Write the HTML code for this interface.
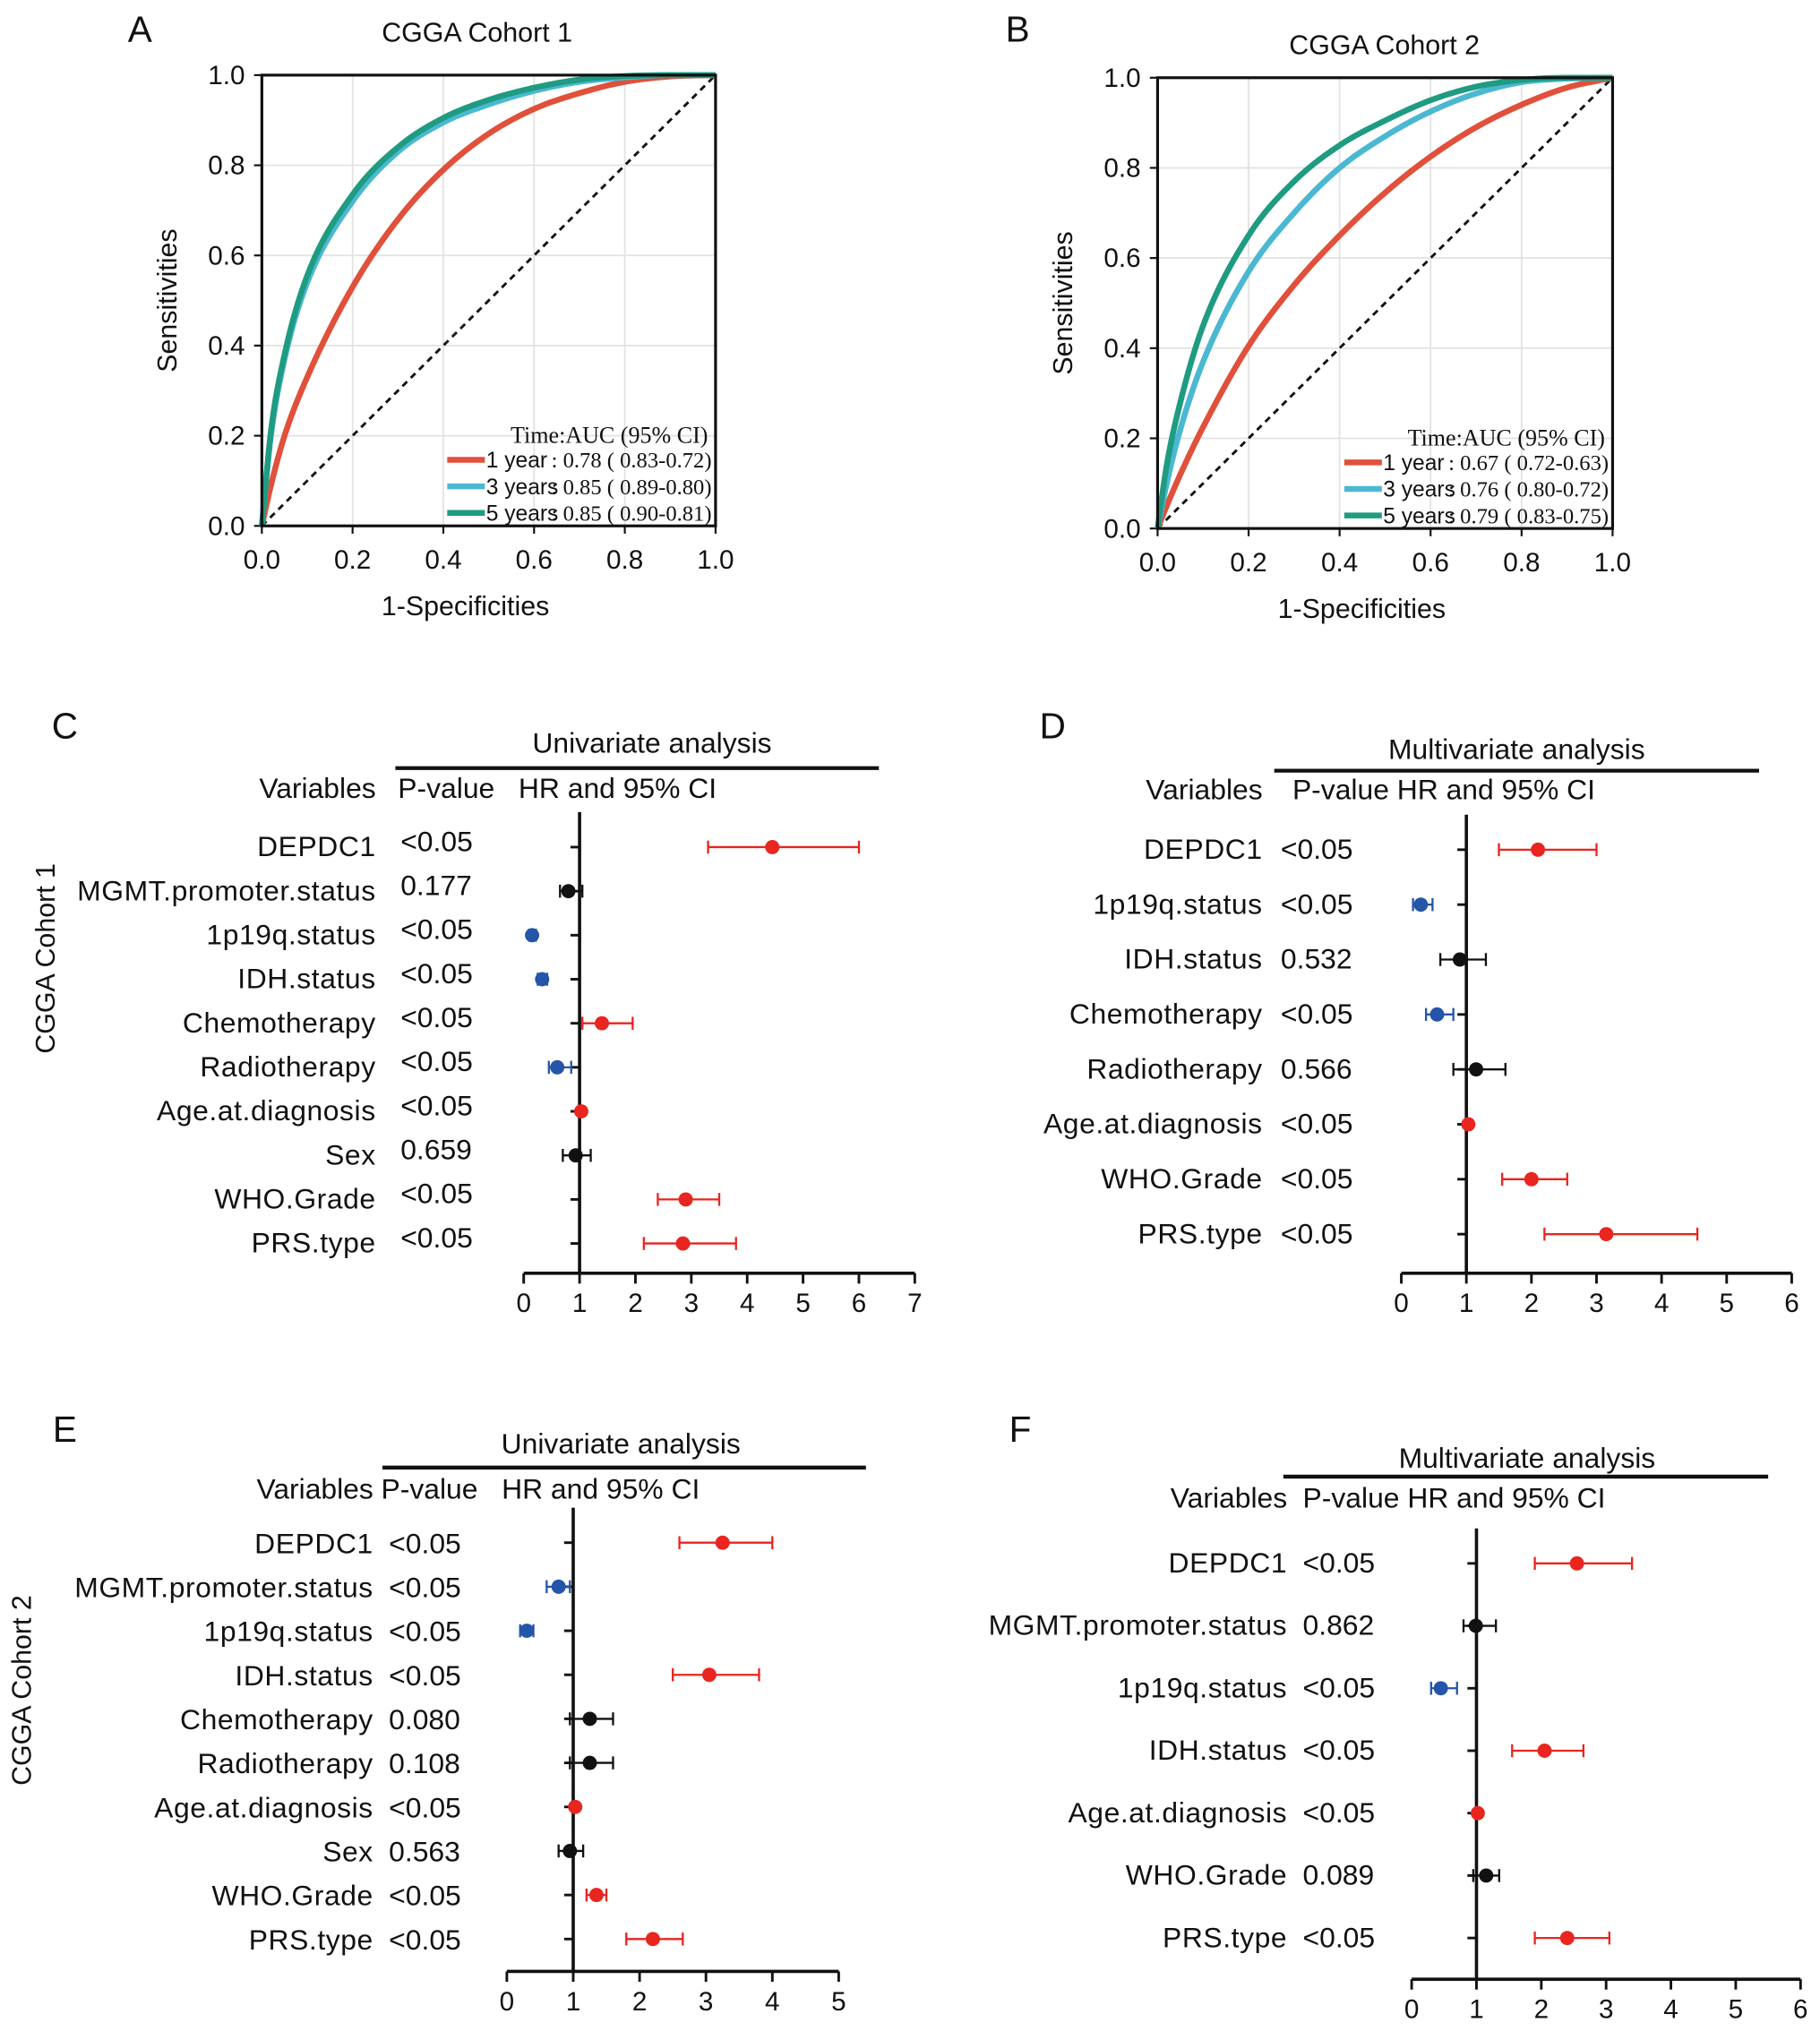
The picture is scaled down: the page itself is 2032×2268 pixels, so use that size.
<!DOCTYPE html>
<html><head><meta charset="utf-8"><style>
html,body{margin:0;padding:0;background:#fff;}
svg{display:block;font-family:"Liberation Sans",sans-serif;}
</style></head><body>
<svg id="fig" width="2032" height="2268" viewBox="0 0 1404 1568" preserveAspectRatio="none" xmlns="http://www.w3.org/2000/svg">
<rect width="1404" height="1568" fill="#fff"/>
<g id="root"></g>
</svg>
<script>
// ROC data (x = 1-specificity, y = sensitivity)
const rocX = [0, 0.02, 0.05, 0.1, 0.2, 0.3, 0.4, 0.5, 0.6, 0.7, 0.8, 0.9, 1.0];
const aRed = [0, 0.09, 0.2, 0.33, 0.53, 0.68, 0.79, 0.87, 0.925, 0.96, 0.985, 0.997, 1.0];
const aCyan = [0, 0.2, 0.37, 0.54, 0.72, 0.83, 0.895, 0.935, 0.965, 0.985, 0.995, 1.0, 1.0];
const aGreen = [0, 0.21, 0.38, 0.555, 0.735, 0.84, 0.905, 0.945, 0.972, 0.99, 0.998, 1.0, 1.0];
const bRed = [0, 0.05, 0.12, 0.225, 0.405, 0.54, 0.65, 0.745, 0.825, 0.89, 0.94, 0.978, 1.0];
const bCyan = [0, 0.1, 0.22, 0.37, 0.57, 0.7, 0.8, 0.87, 0.925, 0.965, 0.99, 0.998, 1.0];
const bGreen = [0, 0.14, 0.28, 0.45, 0.65, 0.77, 0.85, 0.905, 0.95, 0.98, 0.995, 1.0, 1.0];
const rocTicks = ["0.0","0.2","0.4","0.6","0.8","1.0"];

// Forest data
const cVars = ["DEPDC1","MGMT.promoter.status","1p19q.status","IDH.status","Chemotherapy","Radiotherapy","Age.at.diagnosis","Sex","WHO.Grade","PRS.type"];
const cP = ["<0.05","0.177","<0.05","<0.05","<0.05","<0.05","<0.05","0.659","<0.05","<0.05"];
const cHR = [4.45,0.8,0.15,0.33,1.4,0.6,1.03,0.93,2.9,2.85];
const cLo = [3.3,0.65,0.1,0.25,1.05,0.45,1.0,0.7,2.4,2.15];
const cHi = [6.0,1.05,0.22,0.42,1.95,0.85,1.06,1.2,3.5,3.8];
const cCol = ["r","k","b","b","r","b","r","k","r","r"];

const dVars = ["DEPDC1","1p19q.status","IDH.status","Chemotherapy","Radiotherapy","Age.at.diagnosis","WHO.Grade","PRS.type"];
const dP = ["<0.05","<0.05","0.532","<0.05","0.566","<0.05","<0.05","<0.05"];
const dHR = [2.1,0.3,0.9,0.55,1.15,1.03,2.0,3.15];
const dLo = [1.5,0.18,0.6,0.38,0.8,1.0,1.55,2.2];
const dHi = [3.0,0.48,1.3,0.8,1.6,1.06,2.55,4.55];
const dCol = ["r","b","k","b","k","r","r","r"];

const eVars = ["DEPDC1","MGMT.promoter.status","1p19q.status","IDH.status","Chemotherapy","Radiotherapy","Age.at.diagnosis","Sex","WHO.Grade","PRS.type"];
const eP = ["<0.05","<0.05","<0.05","<0.05","0.080","0.108","<0.05","0.563","<0.05","<0.05"];
const eHR = [3.25,0.78,0.3,3.05,1.25,1.25,1.03,0.95,1.35,2.2];
const eLo = [2.6,0.6,0.2,2.5,0.95,0.95,1.0,0.78,1.2,1.8];
const eHi = [4.0,0.95,0.4,3.8,1.6,1.6,1.06,1.15,1.5,2.65];
const eCol = ["r","b","b","r","k","k","r","k","r","r"];

const fVars = ["DEPDC1","MGMT.promoter.status","1p19q.status","IDH.status","Age.at.diagnosis","WHO.Grade","PRS.type"];
const fP = ["<0.05","0.862","<0.05","<0.05","<0.05","0.089","<0.05"];
const fHR = [2.55,0.99,0.45,2.05,1.02,1.15,2.4];
const fLo = [1.9,0.8,0.3,1.55,1.0,0.95,1.9];
const fHi = [3.4,1.3,0.7,2.65,1.05,1.35,3.05];
const fCol = ["r","k","b","r","r","k","r"];

const NS="http://www.w3.org/2000/svg";
const root=document.getElementById('root');
function el(tag,attrs,parent,text){const e=document.createElementNS(NS,tag);for(const k in attrs)e.setAttribute(k,attrs[k]);if(text!==undefined)e.textContent=text;(parent||root).appendChild(e);return e;}
function txt(x,y,s,size,anchor,parent,name,extra){const t=el('text',Object.assign({x:x,y:y,'font-size':size,'text-anchor':anchor||'start',fill:'#111'},extra||{}),parent,s);


return t;}
function monoPath(xs,ys,X,Y){
  const n=xs.length,d=[],m=[];
  for(let i=0;i<n-1;i++)d.push((ys[i+1]-ys[i])/(xs[i+1]-xs[i]));
  m[0]=d[0];m[n-1]=d[n-2];
  for(let i=1;i<n-1;i++){m[i]=(d[i-1]*d[i]<=0)?0:(d[i-1]+d[i])/2;}
  for(let i=0;i<n-1;i++){if(d[i]===0){m[i]=0;m[i+1]=0;continue;}const a=m[i]/d[i],b=m[i+1]/d[i],s=a*a+b*b;if(s>9){const t=3/Math.sqrt(s);m[i]=t*a*d[i];m[i+1]=t*b*d[i];}}
  let p='M'+X(xs[0])+','+Y(ys[0]);
  for(let i=0;i<n-1;i++){const h=xs[i+1]-xs[i];for(let k=1;k<=12;k++){const t=k/12,t2=t*t,t3=t2*t;
    const y=(2*t3-3*t2+1)*ys[i]+(t3-2*t2+t)*h*m[i]+(-2*t3+3*t2)*ys[i+1]+(t3-t2)*h*m[i+1];
    p+=' L'+X(xs[i]+t*h).toFixed(2)+','+Y(y).toFixed(2);}}
  return p;
}

const RED='#e0503a',CYAN='#4bb8d2',GREEN='#1f9b82';
function roc(cfg){
  const g=el('g',{});
  
  
  const X=v=>cfg.x0+v*(cfg.x1-cfg.x0), Y=v=>cfg.y0-v*(cfg.y0-cfg.y1);
  rocTicks.forEach((t,i)=>{const v=+t;
    if(i>0&&i<5){el('line',{x1:X(v),x2:X(v),y1:cfg.y1,y2:cfg.y0,stroke:'#e2e2e2','stroke-width':1.2},g);el('line',{x1:cfg.x0,x2:cfg.x1,y1:Y(v),y2:Y(v),stroke:'#e2e2e2','stroke-width':1.2},g);}
    el('line',{x1:X(v),x2:X(v),y1:cfg.y0,y2:cfg.y0+6,stroke:'#111','stroke-width':1.5},g);
    el('line',{x1:cfg.x0-6,x2:cfg.x0,y1:Y(v),y2:Y(v),stroke:'#111','stroke-width':1.5},g);
    txt(X(v),cfg.y0+33,t,20.5,'middle',g,'x-tick-label');
    txt(cfg.x0-13,Y(v)+7,t,20.5,'end',g,'y-tick-label');
  });
  el('line',{x1:X(0),y1:Y(0),x2:X(1),y2:Y(1),stroke:'#111','stroke-width':2,'stroke-dasharray':'5,4'},g);
  [[cfg.red,RED,'roc-1-year'],[cfg.cyan,CYAN,'roc-3-years'],[cfg.green,GREEN,'roc-5-years']].forEach(s=>{
    const p=el('path',{d:monoPath(rocX,s[0],X,Y),fill:'none',stroke:s[1],'stroke-width':4.5,'stroke-linejoin':'round'},g);
    
    
  });
  el('rect',{x:cfg.x0,y:cfg.y1,width:cfg.x1-cfg.x0,height:cfg.y0-cfg.y1,fill:'none',stroke:'#111','stroke-width':2.2},g);
  txt((cfg.x0+cfg.x1)/2-18,cfg.y0+69,'1-Specificities',21,'middle',g,'x-axis-title');
  txt(0,0,'Sensitivities',21,'middle',g,'y-axis-title',{transform:`translate(${cfg.x0-66},${(cfg.y0+cfg.y1)/2}) rotate(-90)`});
  txt(cfg.tx,cfg.ty,cfg.title,21,'middle',g,'chart-title');
  const lg=el('g',{},g);
  
  
  txt(cfg.x1-82,cfg.y0-64,'Time:AUC (95% CI)',18,'middle',lg,'legend-title',{'font-family':'Liberation Serif,serif',letterSpacing:'-1'});
  cfg.leg.forEach((L,i)=>{const y=cfg.y0-51+i*20.5;
    el('line',{x1:cfg.x1-207,x2:cfg.x1-178,y1:y,y2:y,stroke:[RED,CYAN,GREEN][i],'stroke-width':4.5},lg);
    txt(cfg.x1-177,y+6,L[0],17,'start',lg,'legend-entry');
    txt(cfg.x1-3,y+6,L[1],17,'end',lg,'legend-entry-value',{'font-family':'Liberation Serif,serif',letterSpacing:'-1'});
  });
}
roc({name:'roc-chart-a',x0:202,x1:552,y0:406,y1:58,red:aRed,cyan:aCyan,green:aGreen,title:'CGGA Cohort 1',tx:368,ty:32,
 leg:[['1 year',': 0.78 ( 0.83-0.72)'],['3 years',': 0.85 ( 0.89-0.80)'],['5 years',': 0.85 ( 0.90-0.81)']]});
roc({name:'roc-chart-b',x0:893,x1:1244,y0:408,y1:60,red:bRed,cyan:bCyan,green:bGreen,title:'CGGA Cohort 2',tx:1068,ty:42,
 leg:[['1 year',': 0.67 ( 0.72-0.63)'],['3 years',': 0.76 ( 0.80-0.72)'],['5 years',': 0.79 ( 0.83-0.75)']]});

const COL={r:'#e8251f',b:'#2455a8',k:'#111'};
const FS=22;
function forest(cfg){
  const g=el('g',{});
  
  
  const X=v=>cfg.ax0+v*cfg.unit;
  const ls={'letter-spacing':'0.4'};
  txt(cfg.hx,cfg.hy,cfg.head,FS,'middle',g,'analysis-header');
  el('line',{x1:cfg.lx0,x2:cfg.lx1,y1:cfg.ly,y2:cfg.ly,stroke:'#111','stroke-width':3},g);
  txt(cfg.labX,cfg.cy,'Variables',FS,'end',g,'variables-header');
  cfg.colHeads.forEach(c=>txt(c[0],cfg.cy,c[1],FS,'start',g,'column-header'));
  const top=cfg.rows[0]-27, bot=cfg.axY;
  el('line',{x1:X(1),x2:X(1),y1:top,y2:bot,stroke:'#111','stroke-width':2.5},g);
  el('line',{x1:cfg.ax0,x2:X(cfg.max),y1:bot,y2:bot,stroke:'#111','stroke-width':2.5},g);
  for(let t=0;t<=cfg.max;t++){el('line',{x1:X(t),x2:X(t),y1:bot,y2:bot+8,stroke:'#111','stroke-width':2},g);txt(X(t),bot+30,String(t),20.5,'middle',g,'x-tick-label');}
  cfg.vars.forEach((v,i)=>{const y=cfg.rows[i];
    const rg=el('g',{},g);
    
    
    txt(cfg.labX,y+cfg.lab,v,FS,'end',rg,'variable-label',ls);
    txt(cfg.pX,y+cfg.lab-cfg.pOff,cfg.p[i],FS,'start',rg,'p-value');
    el('line',{x1:X(1)-7,x2:X(1),y1:y,y2:y,stroke:'#111','stroke-width':2},rg);
    const c=COL[cfg.col[i]];
    el('line',{x1:X(cfg.lo[i]),x2:X(cfg.hi[i]),y1:y,y2:y,stroke:c,'stroke-width':1.6},rg);
    el('line',{x1:X(cfg.lo[i]),x2:X(cfg.lo[i]),y1:y-5,y2:y+5,stroke:c,'stroke-width':1.6},rg);
    el('line',{x1:X(cfg.hi[i]),x2:X(cfg.hi[i]),y1:y-5,y2:y+5,stroke:c,'stroke-width':1.6},rg);
    const pt=el('circle',{cx:X(cfg.hr[i]),cy:y,r:5.5,fill:c},rg);
    
    
  });
}
const rowsC=cVars.map((_,i)=>654+i*34), rowsE=eVars.map((_,i)=>1191+i*34);
const rowsD=dVars.map((_,i)=>656+i*42.4), rowsF=fVars.map((_,i)=>1207+i*48.2);
forest({name:'forest-c',vars:cVars,p:cP,hr:cHR,lo:cLo,hi:cHi,col:cCol,rows:rowsC,ax0:404,unit:43.1,max:7,axY:983,
 head:'Univariate analysis',hx:503,hy:581,lx0:305,lx1:678,ly:593,labX:290,cy:616,colHeads:[[307,'P-value'],[400,'HR and 95% CI']],pX:309,lab:7,pOff:4});
forest({name:'forest-d',vars:dVars,p:dP,hr:dHR,lo:dLo,hi:dHi,col:dCol,rows:rowsD,ax0:1081,unit:50.2,max:6,axY:983,
 head:'Multivariate analysis',hx:1170,hy:586,lx0:983,lx1:1357,ly:595,labX:974,cy:617,colHeads:[[997,'P-value HR and 95% CI']],pX:988,lab:7,pOff:0});
forest({name:'forest-e',vars:eVars,p:eP,hr:eHR,lo:eLo,hi:eHi,col:eCol,rows:rowsE,ax0:391,unit:51.2,max:5,axY:1522,
 head:'Univariate analysis',hx:479,hy:1122,lx0:295,lx1:668,ly:1133,labX:288,cy:1157,colHeads:[[294,'P-value'],[387,'HR and 95% CI']],pX:300,lab:8,pOff:0});
forest({name:'forest-f',vars:fVars,p:fP,hr:fHR,lo:fLo,hi:fHi,col:fCol,rows:rowsF,ax0:1089,unit:50,max:6,axY:1528,
 head:'Multivariate analysis',hx:1178,hy:1133,lx0:990,lx1:1364,ly:1140,labX:993,cy:1164,colHeads:[[1005,'P-value HR and 95% CI']],pX:1005,lab:7,pOff:0});

[['A',108,32],['B',785,32],['C',50,570],['D',812,570],['E',50,1113],['F',787,1113]].forEach(p=>txt(p[1],p[2],p[0],28,'middle',null,'panel-label-'+p[0].toLowerCase()));
txt(0,0,'CGGA Cohort 1',21,'middle',null,'cohort-1-label',{transform:'translate(42,740) rotate(-90)'});
txt(0,0,'CGGA Cohort 2',21,'middle',null,'cohort-2-label',{transform:'translate(24,1305) rotate(-90)'});
</script>
</body></html>
